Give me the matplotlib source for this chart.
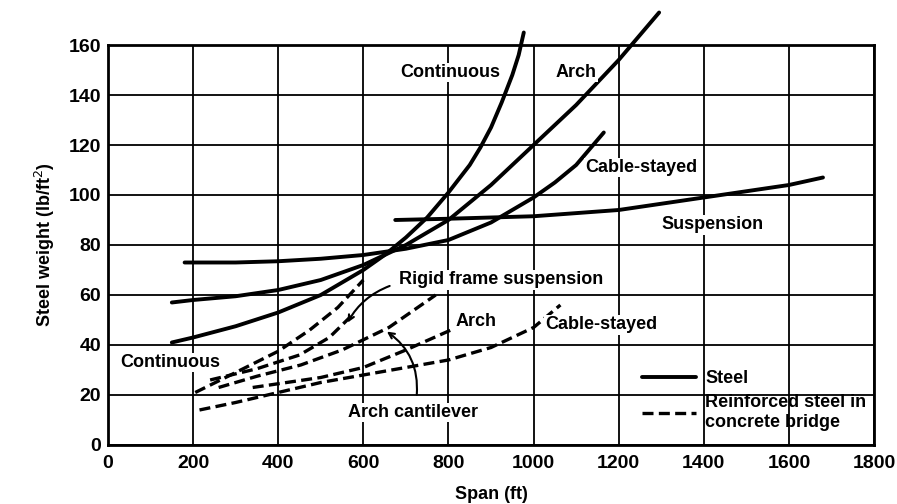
import matplotlib
matplotlib.use("Agg")
import matplotlib.pyplot as plt

plt.rcParams["font.family"] = ["Liberation Sans", "DejaVu Sans"]

# steel bridges (solid)
cont_x = [150, 200, 300, 400, 500, 600, 650, 700, 750, 800, 850, 875, 900, 925, 950, 965, 977]
cont_y = [41, 43, 47.5, 53, 60, 70, 76, 83, 91, 101, 112, 119, 127, 137, 148, 156, 165]
arch_x = [150, 200, 300, 400, 500, 600, 700, 800, 900, 1000, 1100, 1200, 1295]
arch_y = [57, 58, 59.5, 62, 66, 72, 80, 90, 104, 120, 136, 154, 173]
cable_x = [180, 300, 400, 500, 600, 700, 800, 900, 1000, 1050, 1100, 1165]
cable_y = [73, 73, 73.5, 74.5, 76, 78.5, 82, 89, 99, 105, 112, 125]
susp_x = [675, 800, 1000, 1200, 1400, 1600, 1680]
susp_y = [90, 90.5, 91.5, 94, 99, 104, 107]

# reinforced steel in concrete bridges (dashed)
rigid_x = [205, 300, 400, 474, 540, 600]
rigid_y = [21, 29, 37.5, 46, 55, 66]
rigid2_x = [240, 350, 450, 520, 580]
rigid2_y = [26, 30.5, 36, 43, 53]
archc_x = [260, 350, 453, 550, 660, 770]
archc_y = [23, 27.5, 32, 38, 47, 60]
archd_x = [340, 400, 500, 600, 700, 806]
archd_y = [23, 24.5, 27, 31, 38, 46]
cabled_x = [215, 300, 400, 500, 600, 700, 800, 900, 1000, 1063]
cabled_y = [14, 17, 21, 25, 28, 31, 34, 39, 47, 56]

xticks = [0, 200, 400, 600, 800, 1000, 1200, 1400, 1600, 1800]
yticks = [0, 20, 40, 60, 80, 100, 120, 140, 160]

FS = 13
fig = plt.figure(figsize=(8.97, 5.04), dpi=100)
ax = fig.add_axes([0.1204, 0.1171, 0.8540, 0.7936])

ax.set_xlim(0, 1800)
ax.set_ylim(0, 160)
ax.set_xticks(xticks)
ax.set_yticks(yticks)
ax.tick_params(length=0, labelsize=14)
ax.tick_params(axis="x", pad=7)
ax.tick_params(axis="y", pad=5)
for lab in ax.get_xticklabels() + ax.get_yticklabels():
    lab.set_fontweight("bold")
ax.grid(True, color="black", linewidth=1.3)
ax.set_axisbelow(True)
for sp in ax.spines.values():
    sp.set_linewidth(2.0)

solid = dict(color="black", linewidth=2.8, clip_on=False, solid_capstyle="round",
             solid_joinstyle="round")
dashed = dict(color="black", linewidth=2.4, clip_on=False, dashes=(3.3, 1.6))

ax.plot(cont_x, cont_y, label="Steel", **solid)
ax.plot(arch_x, arch_y, **solid)
ax.plot(cable_x, cable_y, **solid)
ax.plot(susp_x, susp_y, **solid)

ax.plot(rigid_x, rigid_y, label="Reinforced steel in\nconcrete bridge", **dashed)
ax.plot(rigid2_x, rigid2_y, **dashed)
ax.plot(archc_x, archc_y, **dashed)
ax.plot(archd_x, archd_y, **dashed)
ax.plot(cabled_x, cabled_y, **dashed)

box = dict(facecolor="white", edgecolor="none", pad=1)
txt = dict(fontsize=FS, fontweight="bold", ha="center", va="center", bbox=box)
ax.text(805, 149, "Continuous", **txt)
ax.text(1100, 149, "Arch", **txt)
ax.text(1253, 111, "Cable-stayed", **txt)
ax.text(1421, 88, "Suspension", **txt)
ax.text(147, 33, "Continuous", **txt)
ax.text(923, 66, "Rigid frame suspension", **txt)
ax.text(865, 49.5, "Arch", **txt)
ax.text(1160, 48, "Cable-stayed", **txt)
ax.text(717, 13, "Arch cantilever", **txt)

ax.annotate("", xy=(560, 48), xytext=(668, 64),
            arrowprops=dict(arrowstyle="->", color="black", lw=1.5,
                            connectionstyle="arc3,rad=0.2"))
ax.annotate("", xy=(650, 46), xytext=(725, 19),
            arrowprops=dict(arrowstyle="->", color="black", lw=1.5,
                            connectionstyle="arc3,rad=0.3"))

leg = ax.legend(loc="upper left", bbox_to_anchor=(0.685, 0.21), frameon=False,
                fontsize=FS, handlelength=3.0, handletextpad=0.5,
                labelspacing=0.4, borderpad=0)
for t in leg.get_texts():
    t.set_fontweight("bold")

ax.set_xlabel("Span (ft)", fontsize=FS, fontweight="bold", labelpad=10)
ax.set_ylabel("Steel weight (lb/ft$^2$)", fontsize=FS, fontweight="bold", labelpad=8)

fig.savefig("out.png", dpi=100)
